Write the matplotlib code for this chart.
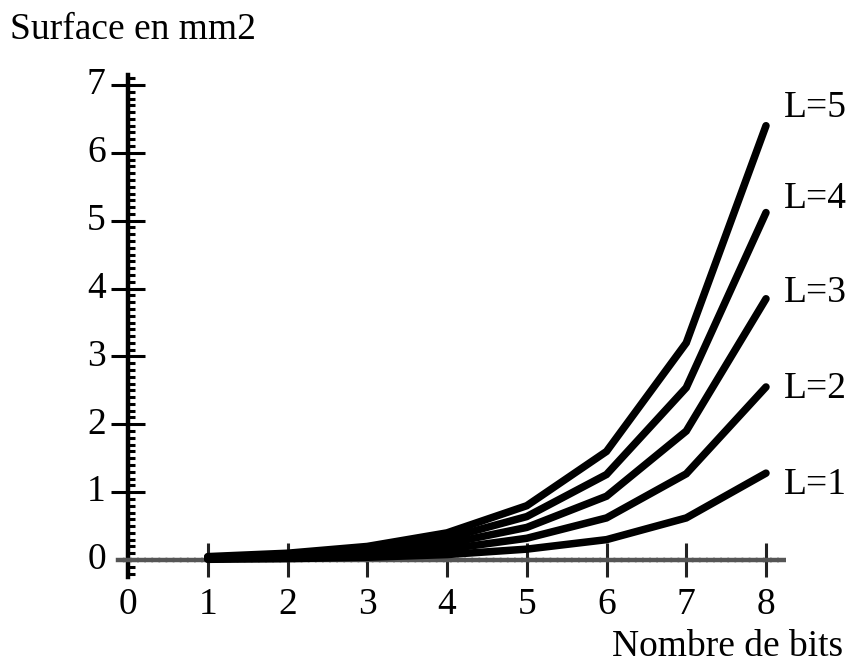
import matplotlib
matplotlib.use("Agg")
import matplotlib.pyplot as plt
from matplotlib.ticker import MultipleLocator

bits = [1, 2, 3, 4, 5, 6, 7, 8]
series_names = ["L=1", "L=2", "L=3", "L=4", "L=5"]
L1 = [0.01, 0.02, 0.04, 0.08, 0.16, 0.30, 0.62, 1.28]
L2 = [0.02, 0.04, 0.08, 0.16, 0.32, 0.62, 1.27, 2.55]
L3 = [0.03, 0.06, 0.12, 0.24, 0.48, 0.94, 1.90, 3.85]
L4 = [0.04, 0.08, 0.16, 0.32, 0.64, 1.26, 2.54, 5.12]
L5 = [0.05, 0.10, 0.20, 0.40, 0.80, 1.60, 3.20, 6.40]
series = [L1, L2, L3, L4, L5]
xticks = [0, 1, 2, 3, 4, 5, 6, 7, 8]
yticks = [0, 1, 2, 3, 4, 5, 6, 7]
label_offsets_pt = [-8.5, -1, 4, 10, 13]

plt.rcParams['font.family'] = ['Liberation Serif', 'DejaVu Serif']
FS = 27

W, H = 850, 666
fig = plt.figure(figsize=(W / 100, H / 100), dpi=100)
x0px, x8px = 128, 766
y0px, y7px = 560, 85
sx = (x8px - x0px) / 8
sy = (y0px - y7px) / 7
xmin, xmax = -0.12, 8.25
ymin, ymax = -0.25, 7.15
left = (x0px + xmin * sx) / W
right = (x0px + xmax * sx) / W
bottom = (H - (y0px - ymin * sy)) / H
top = (H - (y0px - ymax * sy)) / H
ax = fig.add_axes([left, bottom, right - left, top - bottom])
ax.set_xlim(xmin, xmax)
ax.set_ylim(ymin, ymax)

for vals in series:
    ax.plot(bits, vals, color='black', lw=5.4, solid_capstyle='round',
            solid_joinstyle='miter', zorder=3, clip_on=False)

for name, vals, off in zip(series_names, series, label_offsets_pt):
    ax.annotate(name, xy=(bits[-1], vals[-1]), xytext=(13, off),
                textcoords='offset points', fontsize=FS, va='center', ha='left')

ax.spines['top'].set_visible(False)
ax.spines['right'].set_visible(False)
ax.spines['left'].set_position(('data', 0))
ax.spines['bottom'].set_position(('data', 0))
ax.spines['left'].set_linewidth(3.2)
ax.spines['left'].set_color('black')
ax.spines['bottom'].set_linewidth(3.2)
ax.spines['bottom'].set_color('#555555')
ax.spines['bottom'].set_linestyle((0, (1.0, 0.6)))

ax.set_xticks(xticks[1:])
ax.set_xticklabels([])
ax.set_yticks(yticks[1:])
ax.set_yticklabels([])
ax.yaxis.set_minor_locator(MultipleLocator(0.1))
ax.tick_params(axis='x', which='major', direction='inout', length=24, width=2.2, color='#222222')
ax.tick_params(axis='y', which='major', direction='inout', length=24, width=2.2, color='black')
ax.tick_params(axis='y', which='minor', direction='in', length=5, width=2.2, color='black')

for t in xticks:
    ax.annotate(str(t), xy=(t, 0), xytext=(0, -20), textcoords='offset points',
                ha='center', va='top', fontsize=FS, annotation_clip=False)
for t in yticks:
    ax.annotate(str(t), xy=(0, t), xytext=(-16, 0), textcoords='offset points',
                ha='right', va='center', fontsize=FS, annotation_clip=False)

fig.text(10 / W, 1 - 30 / H, "Surface en mm2", fontsize=FS, ha='left', va='center')
fig.text(843 / W, 2 / H, "Nombre de bits", fontsize=FS, ha='right', va='bottom')

fig.savefig("out.png", dpi=100)
